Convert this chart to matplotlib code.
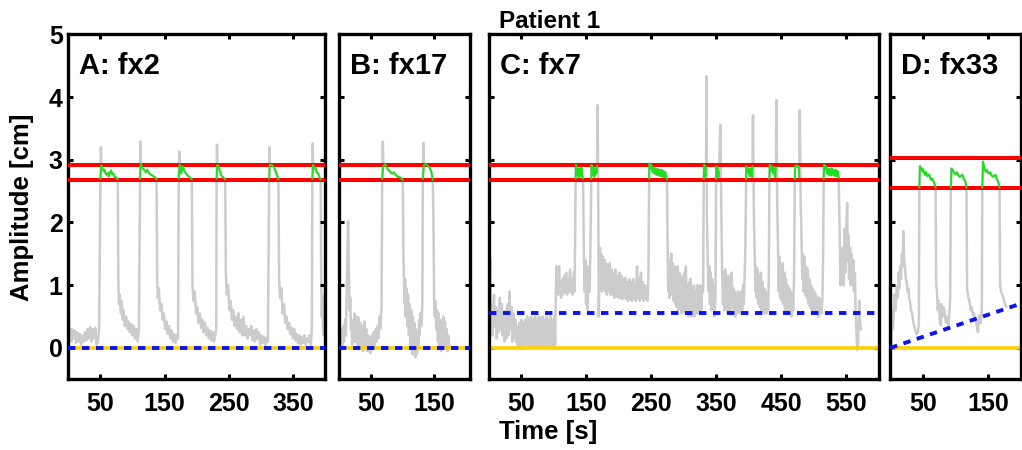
import numpy as np
import matplotlib
matplotlib.use('Agg')
import matplotlib.pyplot as plt

plt.rcParams['font.family'] = ['Liberation Sans', 'DejaVu Sans']
plt.rcParams['font.weight'] = 'bold'

# ============================================================================
# DATA (time [s], amplitude [cm])
# ============================================================================
PANEL_NAMES = ['A: fx2', 'B: fx17', 'C: fx7', 'D: fx33']
XMAX = [400, 205, 600, 200]
WINDOW_LO = [2.68, 2.68, 2.68, 2.55]
WINDOW_HI = [2.92, 2.92, 2.92, 3.03]
# blue dashed baseline: value at t=0 and at t=XMAX
BASE_START = [0.0, 0.0, 0.55, 0.0]
BASE_END = [0.0, 0.0, 0.55, 0.705]

# --- fx2 ---
a_bases = [
    [(0, 0.85), (1, 0.5), (2, 0.2), (3, 0.3), (5, 0.1), (6, 0.3), (8, 0.15), (10, 0.28), (12, 0.08),
     (14, 0.25), (16, 0.1), (18, 0.22), (20, 0.05), (22, 0.2), (24, 0.1), (26, 0.25), (28, 0.12),
     (30, 0.3), (32, 0.15), (34, 0.33), (36, 0.1), (38, 0.3), (40, 0.15), (42, 0.32), (44, 0.05),
     (46, 0.1), (48, 0.3)],
    [(78, 1.05), (79, 0.7), (80, 0.85), (82, 0.55), (83, 0.75), (85, 0.45), (86, 0.6), (88, 0.35),
     (90, 0.5), (92, 0.3), (94, 0.42), (96, 0.25), (98, 0.38), (100, 0.2), (102, 0.35), (104, 0.15),
     (106, 0.3), (108, 0.1), (110, 0.3)],
    [(138.5, 1.1), (139.5, 0.8), (141, 0.95), (143, 0.6), (145, 0.7), (147, 0.45), (149, 0.55),
     (151, 0.3), (153, 0.42), (155, 0.22), (157, 0.35), (159, 0.15), (161, 0.28), (163, 0.1),
     (165, 0.22), (167, 0.08), (169, 0.2), (171, 0.15)],
    [(193.5, 1.0), (195, 0.75), (197, 0.9), (199, 0.55), (201, 0.65), (203, 0.4), (205, 0.55),
     (207, 0.32), (209, 0.45), (211, 0.25), (213, 0.4), (215, 0.2), (217, 0.32), (219, 0.15),
     (221, 0.28), (223, 0.12), (225, 0.25), (227, 0.1), (229, 0.2), (230.5, 0.3)],
    [(245.5, 1.2), (247, 0.85), (249, 1.0), (251, 0.6), (253, 0.75), (255, 0.45), (257, 0.6),
     (259, 0.35), (261, 0.5), (263, 0.3), (265, 0.55), (267, 0.25), (269, 0.45), (271, 0.2),
     (273, 0.5), (275, 0.2), (277, 0.35), (279, 0.15), (281, 0.3), (283, 0.2), (285, 0.35),
     (287, 0.12), (289, 0.28), (291, 0.1), (293, 0.3), (295, 0.15), (297, 0.25), (299, 0.05),
     (301, 0.2), (303, 0.08), (305, 0.18), (307, 0.05), (309, 0.15), (311, 0.1)],
    [(328.5, 1.1), (330, 0.8), (332, 0.95), (334, 0.55), (336, 0.7), (338, 0.4), (340, 0.5),
     (342, 0.3), (344, 0.4), (346, 0.22), (348, 0.32), (350, 0.15), (352, 0.3), (354, 0.12),
     (356, 0.22), (358, 0.08), (360, 0.2), (362, 0.05), (364, 0.18), (366, 0.08), (368, 0.2),
     (370, 0.05), (372, 0.15), (374, 0.1), (376, 0.2), (378, 0.05), (379.5, 0.3)],
    [(394, 1.2), (395, 0.5), (396, 0.8), (397, 0.3), (398, 0.2), (399, 0.85), (400, 0.3)],
]
a_holds = [
    [(50.1, 2.7), (51.6, 2.91), (53, 2.86), (55, 2.82), (56.4, 2.84), (58, 2.78), (60, 2.76),
     (62, 2.79), (63.1, 2.73), (65, 2.8), (66.7, 2.83), (68.5, 2.77), (70, 2.78), (72, 2.73),
     (74, 2.72), (77.1, 2.69)],
    [(111.8, 2.7), (113, 2.94), (115, 2.88), (118, 2.84), (121, 2.8), (123, 2.84), (126, 2.78),
     (129, 2.76), (132, 2.74), (135, 2.72), (137.5, 2.69)],
    [(172.1, 2.7), (173.5, 2.93), (176, 2.78), (178, 2.9), (181, 2.82), (184, 2.77), (188, 2.73),
     (192.5, 2.69)],
    [(231.1, 2.7), (232.3, 2.92), (234, 2.9), (238, 2.76), (241, 2.72), (244.5, 2.69)],
    [(312.9, 2.7), (314, 2.92), (316, 2.92), (319, 2.9), (321, 2.87), (323, 2.82), (325, 2.76),
     (327.4, 2.69)],
    [(380.3, 2.7), (381.5, 2.92), (383, 2.86), (385, 2.88), (387, 2.8), (389.5, 2.78),
     (391.5, 2.72), (393.3, 2.69)],
]
a_peaks = [(50.8, 3.2), (112.3, 3.29), (172.8, 3.13), (231.7, 3.24), (313.4, 3.2), (380.8, 3.26)]

# --- fx17 ---
b_bases = [
    [(0, 0.3), (1, 0.05), (2, 0.25), (3, 0.0), (5, 0.3), (6, 0.05), (7, 0.35), (8, 0.1), (10, 0.45),
     (11, 0.2), (12, 0.7), (13, 1.2), (14.6, 2.02), (16, 1.1), (17, 0.6), (18, 0.8), (19, 0.3),
     (20, 0.45), (21, 0.05), (22, 0.4), (23, 0.1), (25, 0.55), (26, 0.1), (28, 0.5), (29, 0.05),
     (31, 0.48), (32, -0.02), (34, 0.4), (35, 0.0), (37, 0.35), (38, -0.05), (40, 0.42), (41, 0.0),
     (43, 0.3), (44, -0.05), (46, 0.2), (47, -0.05), (49, 0.15), (50, -0.08), (52, 0.2), (53, 0.0),
     (55, 0.25), (56, 0.05), (58, 0.3), (59, 0.1), (61, 0.35), (62, 0.15), (64, 0.5), (65, 0.3),
     (67, 0.65)],
    [(101.3, 1.5), (102, 1.19), (103, 0.7), (104, 1.1), (105, 0.5), (106, 0.95), (107.5, 0.35),
     (108.5, 0.85), (110, 0.2), (111, 0.7), (112.5, 0.0), (113.5, 0.6), (115, -0.1), (116, 0.5),
     (117.5, -0.1), (118.5, 0.4), (120, -0.15), (121, 0.3), (122.5, -0.1), (123.5, 0.25), (125, 0.0),
     (126, 0.45), (127, 0.2), (128, 0.55), (129.5, 0.35), (131, 0.7)],
    [(148.5, 2.0), (149.5, 0.8), (150.5, 0.5), (151.5, 0.75), (153, 0.3), (154, 0.6), (155.5, 0.1),
     (156.5, 0.55), (158, 0.0), (159, 0.45), (160.5, -0.05), (161.5, 0.4), (163, 0.0), (164, 0.5),
     (165.5, 0.05), (166.5, 0.42), (168, 0.0), (169, 0.3), (170.5, -0.05), (171.5, 0.2), (173, 0.0),
     (175, 0.02)],
]
b_holds = [
    [(68.1, 2.7), (69.8, 2.9), (72.8, 2.93), (76, 2.86), (79.6, 2.82), (83.2, 2.78), (86.4, 2.8),
     (89, 2.76), (92.6, 2.73), (96, 2.72), (100.4, 2.68)],
    [(131.8, 2.7), (133.6, 2.91), (135, 2.93), (137, 2.93), (139.6, 2.9), (142.2, 2.88),
     (144.8, 2.82), (146, 2.76), (147.4, 2.68)],
]
b_peaks = [(69.1, 3.29), (132.8, 3.27)]

# --- fx7 ---
c_bases = [
    [(0, 0.4), (1, 1.0), (2, 1.41), (3, 0.8), (4, 0.3), (5, 0.7), (6, 0.2), (8, 0.85), (9, 0.35),
     (11, 0.65), (12, 0.15), (14, 0.6), (15, 0.25), (17, 0.8), (18, 0.3), (20, 0.7), (21, 0.2),
     (23, 0.55), (24, 0.1), (26, 0.6), (27, 0.15), (29, 0.7), (30, 0.2), (32, 0.9), (33, 0.3),
     (35, 0.65), (36, 0.1), (38, 0.55), (39, 0.15), (41, 0.45), (42, 0.1), (43.5, 0.3),
     (44, 0.05), (45, 0.35), (46, 0.0), (47, 0.4), (48, 0.05), (50, 0.45), (51, -0.02), (53, 0.4),
     (54, 0.05), (56, 0.45), (57, 0.0), (59, 0.5), (60, 0.05), (62, 0.45), (63, 0.0), (65, 0.5),
     (66, 0.05), (68, 0.45), (69, 0.02), (71, 0.5), (72, 0.05), (74, 0.45), (75, 0.0), (77, 0.5),
     (78, 0.05), (80, 0.48), (81, 0.02), (83, 0.5), (84, 0.05), (86, 0.45), (87, 0.0), (89, 0.5),
     (90, 0.05), (92, 0.45), (93, 0.02), (95, 0.5), (96, 0.05), (98, 0.45), (99, 0.0), (101, 0.5),
     (102, 0.05), (103, 0.8), (104, 1.3), (105, 0.9), (106, 1.1), (107, 0.85), (108, 1.3),
     (109, 0.9), (110, 1.05), (111, 0.8), (113, 1.1), (114, 0.85), (116, 1.15), (117, 0.9),
     (119, 1.2), (120, 0.85), (122, 1.1), (123, 0.88), (125, 1.25), (126, 0.9), (128, 1.1),
     (129, 0.85), (131, 1.2), (132, 0.9)],
    [(146, 1.6), (147.5, 0.9), (148.5, 1.4), (149.5, 0.7), (151, 1.1), (152, 0.6), (153.5, 1.3),
     (155, 0.9), (156.5, 1.8)],
    [(168.5, 2.0), (169, 0.5), (170, 1.0), (171, 1.6), (172, 1.1), (173, 1.5), (174, 0.9),
     (175.5, 1.45), (176.5, 0.95), (178, 1.4), (179, 0.9), (180.5, 1.35), (181.5, 0.85), (183, 1.3),
     (184, 0.9), (186, 1.35), (187, 0.85), (189, 1.25), (190, 0.85), (192, 1.2), (193, 0.8),
     (195, 1.25), (196, 0.82), (198, 1.15), (199, 0.8), (201, 1.2), (202, 0.8), (204, 1.15),
     (205, 0.78), (207, 1.1), (208, 0.8), (210, 1.12), (211, 0.78), (213, 1.05), (214, 0.75),
     (216, 1.1), (217, 0.78), (219, 1.05), (220, 0.75), (222, 1.1), (223, 0.78), (225, 1.0),
     (226, 0.75), (228, 1.3), (229, 0.8), (231, 1.1), (232, 0.75), (234, 1.2), (235, 0.8),
     (237, 1.05), (238, 0.75), (240, 1.0), (241, 0.78), (243, 0.95), (244, 0.75), (245.5, 1.2)],
    [(275, 1.55), (276, 0.9), (277, 1.4), (278, 0.8), (280.5, 1.5), (281.5, 0.85), (283, 1.35),
     (284, 0.75), (285.5, 1.3), (286.5, 0.7), (288, 1.25), (289, 0.65), (290.5, 1.3), (291.5, 0.6),
     (293, 1.2), (294, 0.65), (295.5, 1.1), (296.5, 0.55), (298, 1.15), (299, 0.6), (300.5, 1.2),
     (301.5, 0.55), (303, 1.3), (304, 0.6), (305.5, 1.0), (306.5, 0.5), (308, 1.05), (309, 0.55),
     (310.5, 1.1), (311.5, 0.5), (313, 0.95), (314, 0.55), (315.5, 1.0), (316.5, 0.5), (318, 0.9),
     (319, 0.55), (320.5, 1.0), (321.5, 0.55), (323, 0.9), (324, 0.6), (325.5, 1.0), (326.5, 0.6),
     (328, 0.95), (329.5, 0.9)],
    [(335.5, 2.0), (336.7, 1.4), (338, 0.9), (339, 1.3), (340, 0.7), (341, 1.2), (342, 0.6),
     (343.5, 1.1), (344.5, 0.6), (346, 1.0), (347, 0.5), (348.5, 0.8)],
    [(357.5, 2.2), (358.7, 1.3), (360, 0.7), (361, 1.2), (362, 0.6), (363.5, 1.25), (364.5, 0.65),
     (366, 1.1), (367, 0.55), (368.5, 1.15), (369.5, 0.6), (371, 1.05), (372, 0.55), (373.5, 1.2),
     (374.5, 0.7), (376, 0.95), (377, 0.55), (378.5, 0.9), (379.5, 0.5), (381, 0.85), (382, 0.55),
     (383.5, 0.9), (384.5, 0.6), (386, 0.85), (387, 0.55), (388.5, 0.9), (389.5, 0.6), (391, 1.0),
     (392, 0.7), (393.5, 1.2), (394.5, 1.6)],
    [(407.5, 2.2), (409, 1.45), (410, 0.9), (411, 1.3), (412, 0.8), (413.5, 1.25), (414.5, 0.7),
     (416, 1.15), (417, 0.65), (418.5, 1.2), (419.5, 0.6), (421, 1.05), (422, 0.6), (423.5, 0.95),
     (424.5, 0.55), (426, 0.9), (427, 0.55), (428.5, 0.85), (429.5, 0.6), (430.5, 1.1)],
    [(443.5, 2.3), (444.9, 1.5), (446, 0.9), (447, 1.45), (448, 0.8), (449.5, 1.3), (450.5, 0.75),
     (452, 1.35), (453, 0.7), (454.5, 1.2), (455.5, 0.6), (457, 1.1), (458, 0.6), (459.5, 1.0),
     (460.5, 0.55), (462, 0.95), (463, 0.55), (464.5, 0.9), (465.5, 0.5), (467, 0.85), (468, 0.6),
     (469.5, 1.2)],
    [(479.5, 2.3), (480.8, 1.8), (482, 1.1), (483, 1.5), (484, 0.9), (485.5, 1.45), (486.5, 0.85),
     (488, 1.3), (489, 0.8), (490.5, 1.25), (491.5, 0.7), (493, 1.1), (494, 0.65), (495.5, 1.0),
     (496.5, 0.6), (498, 0.95), (499, 0.55), (500.5, 0.9), (501.5, 0.55), (503, 0.85), (504, 0.55),
     (505.5, 0.8), (506.5, 0.5), (508, 0.8), (509, 0.55), (510.5, 0.75), (511.5, 0.55), (513, 0.8),
     (514, 1.4)],
    [(540, 1.6), (541, 1.0), (542, 1.5), (543, 1.1), (544.5, 1.6), (545.5, 1.0), (547, 1.9),
     (548, 1.2), (549.5, 1.8), (551, 2.31), (552, 1.4), (553, 1.8), (554, 1.1), (555.5, 1.6),
     (556.5, 1.0), (558, 1.5), (559, 1.0), (560.5, 1.4), (561.5, 0.9), (563, 1.2), (564, 0.6),
     (565.5, 0.2), (566.5, -0.03), (568, 0.1), (569.5, 0.75), (571, 0.4), (572, 0.3)],
]
c_holds = [
    [(133.5, 2.7), (134, 2.92), (135.5, 2.75), (137, 2.86), (138.5, 2.72), (139.5, 2.86),
     (141, 2.74), (142.5, 2.88), (144, 2.73), (145, 2.7)],
    [(157.7, 2.7), (158, 2.92), (159.5, 2.76), (161, 2.88), (162.5, 2.73), (164, 2.86),
     (165.5, 2.78), (166.5, 2.9)],
    [(246.5, 2.7), (247, 2.94), (249, 2.86), (250, 2.92), (252, 2.8), (253.5, 2.88), (255, 2.78),
     (256.5, 2.86), (258, 2.76), (259.5, 2.85), (261, 2.75), (262.5, 2.84), (264, 2.74),
     (265.5, 2.84), (267, 2.73), (268.5, 2.82), (270, 2.72), (271.5, 2.8), (273, 2.72), (274, 2.69)],
    [(330.5, 2.7), (331, 2.92), (332, 2.72), (333, 2.9), (334, 2.75)],
    [(349.5, 2.7), (350, 2.9), (351, 2.76), (352, 2.86), (353, 2.72), (354, 2.8)],
    [(395.7, 2.7), (396, 2.9), (398, 2.8), (399.5, 2.86), (401, 2.74), (403, 2.86), (404.5, 2.72),
     (405.5, 2.9)],
    [(431.5, 2.7), (432, 2.92), (434, 2.82), (436, 2.9), (437.5, 2.78), (439, 2.86), (440.5, 2.72),
     (441.5, 2.88)],
    [(470.5, 2.7), (471, 2.9), (473, 2.91), (475, 2.88), (476.5, 2.9), (477.5, 2.72)],
    [(515, 2.7), (515.5, 2.92), (517, 2.85), (518.5, 2.9), (520, 2.78), (521.5, 2.86), (523, 2.76),
     (524.5, 2.85), (526, 2.75), (527.5, 2.86), (529, 2.76), (530.5, 2.84), (532, 2.74),
     (533.5, 2.84), (535, 2.74), (536.5, 2.82), (538, 2.72)],
]
c_peaks = [None, (167.4, 3.87), None, (334.6, 4.33), (356, 3.56), (406.2, 3.71), (442.3, 3.95),
           (478.2, 3.79), None]

# --- fx33 ---
d_bases = [
    [(0, 0.02), (1.5, 0.05), (3, 0.6), (4, 0.3), (5.1, 0.5), (6.5, 0.85), (8, 0.6), (10.2, 0.98),
     (11.5, 0.8), (13, 1.2), (14, 0.95), (15.2, 1.3), (16.5, 1.1), (18, 1.5), (19, 1.3), (20.3, 1.86),
     (21.5, 1.4), (22.9, 1.25), (24, 1.1), (25.4, 1.05), (26.5, 0.9), (28, 0.95), (29, 0.8),
     (30.5, 0.73), (32, 0.6), (33.5, 0.55), (35.6, 0.4), (37, 0.35), (38.5, 0.28), (40.7, 0.22),
     (42.5, 0.25), (44, 0.4)],
    [(70.5, 1.0), (71.5, 0.93), (73, 0.6), (74.5, 0.75), (76, 0.45), (77.7, 0.36), (79, 0.7),
     (80.5, 0.5), (82, 0.65), (83.8, 0.55), (85.5, 0.4), (87, 0.5), (88.9, 0.36), (90.5, 0.5),
     (92, 0.8)],
    [(118, 0.93), (120, 0.8), (121.9, 0.73), (123.5, 0.6), (125, 0.65), (127, 0.52), (128.5, 0.55),
     (130, 0.45), (132, 0.41), (133.5, 0.3), (134.6, 0.25), (136, 0.45), (137.2, 0.52), (139, 0.4),
     (140.5, 0.6)],
    [(168.5, 1.0), (170, 0.9), (172, 0.85), (174, 0.78), (176, 0.7), (177.9, 0.66)],
]
d_holds = [
    [(44.7, 2.56), (45.7, 2.9), (47, 2.86), (48.3, 2.84), (49.5, 2.86), (50.8, 2.8), (52, 2.82),
     (53.4, 2.76), (54.9, 2.8), (56.9, 2.74), (58.5, 2.76), (60, 2.76), (61, 2.72), (62.5, 2.68),
     (64, 2.7), (65, 2.69), (66.5, 2.65), (67.6, 2.63), (69.6, 2.56)],
    [(93, 2.56), (94, 2.86), (95.5, 2.82), (96.5, 2.83), (98.5, 2.78), (100.6, 2.77), (102.6, 2.8),
     (104.5, 2.75), (106.7, 2.73), (108.5, 2.74), (110.8, 2.76), (112.5, 2.7), (113.8, 2.68),
     (115.5, 2.65), (116.9, 2.56)],
    [(141.3, 2.56), (142.3, 2.97), (144, 2.88), (146.3, 2.81), (148.3, 2.84), (150, 2.79),
     (151.4, 2.78), (153.4, 2.8), (155.5, 2.75), (157.5, 2.73), (159.5, 2.74), (161.6, 2.76),
     (163, 2.7), (164.6, 2.67), (166, 2.64), (167.7, 2.56)],
]
d_peaks = [None, None, None]


def build_trace(bases, holds, peaks, peak_first):
    pts = list(bases[0])
    for i, hold in enumerate(holds):
        pk = peaks[i]
        if pk is None:
            pts += hold
        elif peak_first:
            pts += [hold[0], pk] + hold[1:]
        else:
            pts += hold + [pk]
        pts += bases[i + 1]
    t, v = zip(*pts)
    return np.array(t), np.array(v)


panels = [
    build_trace(a_bases, a_holds, a_peaks, True) + (a_holds,),
    build_trace(b_bases, b_holds, b_peaks, True) + (b_holds,),
    build_trace(c_bases, c_holds, c_peaks, False) + (c_holds,),
    build_trace(d_bases, d_holds, d_peaks, False) + (d_holds,),
]

# ============================================================================
# LAYOUT (pixels in a 1022x450 canvas)
# ============================================================================
W, H = 1022, 450
LEFTS = [68.3, 338.8, 488.8, 890.2]
RIGHTS = [325.0, 469.5, 879.0, 1020.6]
TOP, BOTTOM = 34.3, 379.3

fig = plt.figure(figsize=(W / 100, H / 100), dpi=100)

GRAY = '#CCCCCC'
GREEN = '#22DD22'
RED = '#FF0000'
BLUE = '#0A14F0'
YELLOW = '#FFD000'

for i, (t, v, holds) in enumerate(panels):
    l, r = LEFTS[i], RIGHTS[i]
    ax = fig.add_axes([l / W, 1 - BOTTOM / H, (r - l) / W, (BOTTOM - TOP) / H])

    ax.plot(t, v, color=GRAY, lw=1.8, zorder=1)
    ax.axhline(0, color=YELLOW, lw=2.6, zorder=2)
    ax.plot([0, XMAX[i]], [BASE_START[i], BASE_END[i]], color=BLUE, lw=2.8,
            dashes=(1.9, 1.7), zorder=3)
    ax.axhline(WINDOW_LO[i], color=RED, lw=2.9, zorder=4)
    ax.axhline(WINDOW_HI[i], color=RED, lw=2.9, zorder=4)
    for hold in holds:
        ht, hv = zip(*hold)
        ax.plot(ht, hv, color=GREEN, lw=1.4, zorder=5)

    ax.set_xlim(0, XMAX[i])
    ax.set_ylim(-0.5, 5)
    ax.set_xticks(np.arange(50, XMAX[i], 100))
    ax.set_yticks(range(0, 6))
    ax.tick_params(direction='in', length=3.5, width=2.2, top=True, right=True,
                   labelsize=18, colors='black')
    ax.tick_params(axis='x', pad=9.5)
    ax.tick_params(axis='y', pad=4)
    if i > 0:
        ax.set_yticklabels([])
    for lab in ax.get_xticklabels() + ax.get_yticklabels():
        lab.set_fontweight('bold')
    for sp in ax.spines.values():
        sp.set_linewidth(2.4)

    ax.text(11 / (r - l), (BOTTOM - 74) / (BOTTOM - TOP), PANEL_NAMES[i],
            transform=ax.transAxes, fontsize=21, fontweight='bold',
            ha='left', va='baseline')

fig.text(22.5 / W, 1 - 207 / H, 'Amplitude [cm]', rotation=90, fontsize=18.5,
         fontweight='bold', ha='center', va='center')
fig.text(548 / W, 1 - 438.5 / H, 'Time [s]', fontsize=18.5, fontweight='bold',
         ha='center', va='baseline')
fig.text(549.7 / W, 1 - 28.3 / H, 'Patient 1', fontsize=17.5, fontweight='bold',
         ha='center', va='baseline')

fig.savefig('out.png', dpi=100)
